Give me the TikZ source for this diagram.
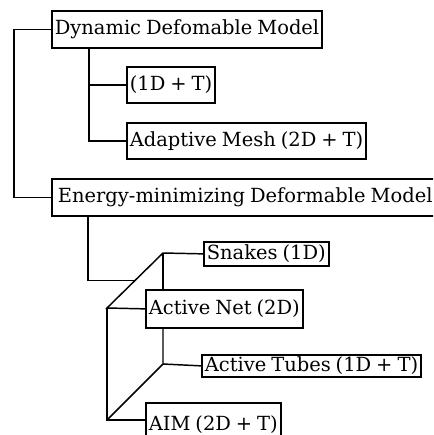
\documentclass[tikz,border=0pt]{standalone}
\usepackage{fontspec}
\setmainfont{DejaVu Serif}[WordSpace=0.8]
\usetikzlibrary{calc}

\tikzset{every picture/.style={line width=0.75pt}}
\tikzset{
  model/.style={draw, line width=1.3pt, anchor=north west, inner xsep=2.2pt, inner ysep=0pt,
    font=\fontsize{14.6}{17}\selectfont},
  link/.style={line width=1.1pt}
}

\begin{document}
\begin{tikzpicture}[x=0.75pt,y=0.75pt,yscale=-1,xscale=1]
	\clip (0,0) rectangle (433,435);
	\useasboundingbox (0,0) rectangle (433,435);

	% Text Node
	\node[model, minimum height=27.75] (dyn) at (51,10) {Dynamic Defomable Model};
	% Text Node
	\node[model, minimum height=27] (one) at (126,66) {(1D + T)};
	% Text Node
	\node[model, minimum height=27] (mesh) at (126,122) {Adaptive Mesh (2D + T)};
	% Text Node
	\node[model, minimum height=27.75, minimum width=290] (energy) at (51,178) {Energy-minimizing Deformable Model};
	% Text Node
	\node[model, minimum height=18] (snakes) at (203,241) {Snakes (1D)};
	% Text Node
	\node[model, minimum height=28.5] (net) at (145,289) {Active Net (2D)};
	% Text Node
	\node[model, minimum height=16.5] (tubes) at (201,354) {Active Tubes (1D + T)};
	% Text Node
	\node[model, minimum height=32.5] (aim) at (145,402) {AIM (2D + T)};

	% corners of the box joining the four energy models
	\coordinate (back1) at (163,253);
	\coordinate (front1) at (107,308);
	\coordinate (back2) at (163,364);
	\coordinate (front2) at (107,420);
	\coordinate (mid) at ($(back1)!0.5!(front1)$);

	%Straight Lines
	\draw[link] (dyn.west) -- ++(-37,0) |- (energy.west);
	\draw[link] (dyn.south west) ++(38,0) coordinate (dynT) |- (one.west);
	\draw[link] (dynT) |- (mesh.west);
	\draw[link] (energy.south west) ++(37,0) |- (mid);

	%Straight Lines
	\draw[link] (back1) -- (snakes.west);
	\draw[link] (back1) -- (back1 |- net.north);
	\draw[link] (back1) -- (front1) -- (net.west);
	\draw[link] (front1) -- (front2) -- (front2 -| aim.west);
	\draw[link] (back2 |- net.south) -- (back2) -- (tubes.west);
	\draw[link] (back2) -- (front2);

\end{tikzpicture}
\end{document}
